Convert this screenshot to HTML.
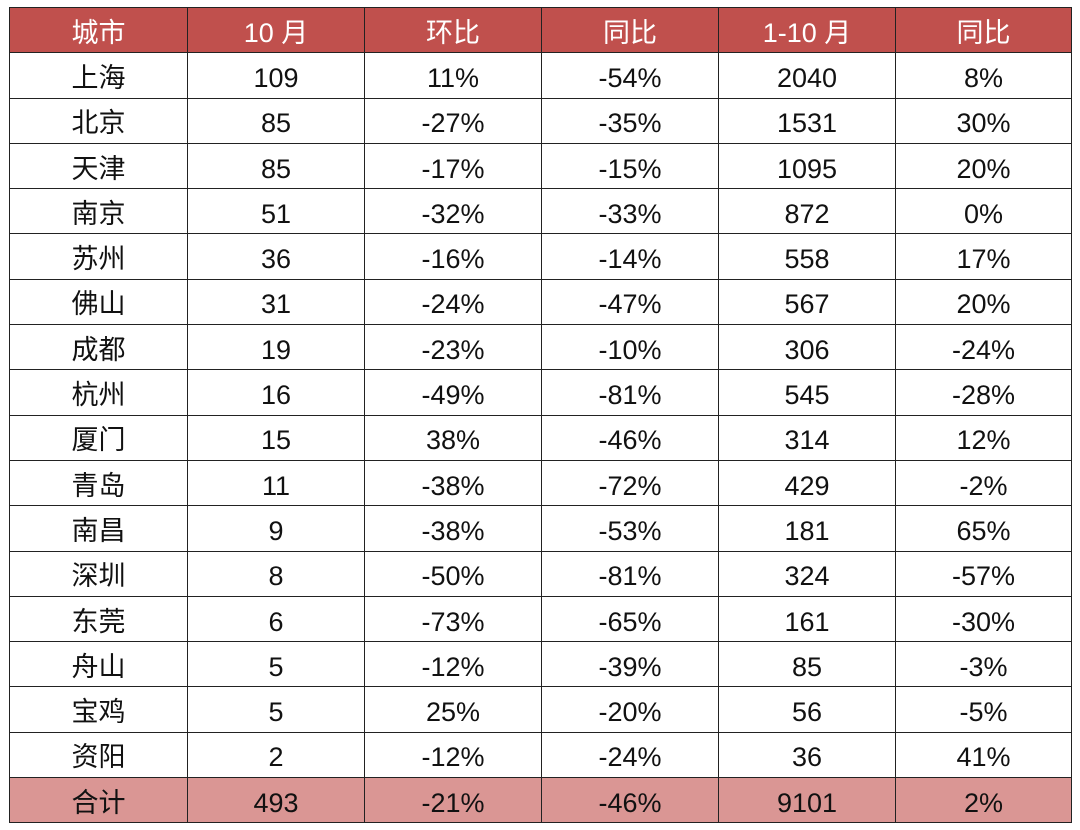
<!DOCTYPE html>
<html><head><meta charset="utf-8"><style>
html,body{margin:0;padding:0;background:#fff;width:1080px;height:830px;overflow:hidden}
table{position:absolute;left:9px;top:7px;border-collapse:collapse;table-layout:fixed;font-family:"Liberation Sans","Noto Sans CJK SC",sans-serif;font-size:27px;color:#111}
td{border:1.5px solid #222;height:38.3px;padding:6px 0 0 0;text-align:center;vertical-align:middle;line-height:1}
tr.h td{background:#c0504d;color:#fff}
tr.t td{background:#da9694}
</style></head><body>
<table>
<colgroup><col style="width:178px"><col style="width:177px"><col style="width:177px"><col style="width:177px"><col style="width:177px"><col style="width:176px"></colgroup>
<tr class="h"><td>城市</td><td>10 月</td><td>环比</td><td>同比</td><td>1-10 月</td><td>同比</td></tr>
<tr><td>上海</td><td>109</td><td>11%</td><td>-54%</td><td>2040</td><td>8%</td></tr>
<tr><td>北京</td><td>85</td><td>-27%</td><td>-35%</td><td>1531</td><td>30%</td></tr>
<tr><td>天津</td><td>85</td><td>-17%</td><td>-15%</td><td>1095</td><td>20%</td></tr>
<tr><td>南京</td><td>51</td><td>-32%</td><td>-33%</td><td>872</td><td>0%</td></tr>
<tr><td>苏州</td><td>36</td><td>-16%</td><td>-14%</td><td>558</td><td>17%</td></tr>
<tr><td>佛山</td><td>31</td><td>-24%</td><td>-47%</td><td>567</td><td>20%</td></tr>
<tr><td>成都</td><td>19</td><td>-23%</td><td>-10%</td><td>306</td><td>-24%</td></tr>
<tr><td>杭州</td><td>16</td><td>-49%</td><td>-81%</td><td>545</td><td>-28%</td></tr>
<tr><td>厦门</td><td>15</td><td>38%</td><td>-46%</td><td>314</td><td>12%</td></tr>
<tr><td>青岛</td><td>11</td><td>-38%</td><td>-72%</td><td>429</td><td>-2%</td></tr>
<tr><td>南昌</td><td>9</td><td>-38%</td><td>-53%</td><td>181</td><td>65%</td></tr>
<tr><td>深圳</td><td>8</td><td>-50%</td><td>-81%</td><td>324</td><td>-57%</td></tr>
<tr><td>东莞</td><td>6</td><td>-73%</td><td>-65%</td><td>161</td><td>-30%</td></tr>
<tr><td>舟山</td><td>5</td><td>-12%</td><td>-39%</td><td>85</td><td>-3%</td></tr>
<tr><td>宝鸡</td><td>5</td><td>25%</td><td>-20%</td><td>56</td><td>-5%</td></tr>
<tr><td>资阳</td><td>2</td><td>-12%</td><td>-24%</td><td>36</td><td>41%</td></tr>
<tr class="t"><td>合计</td><td>493</td><td>-21%</td><td>-46%</td><td>9101</td><td>2%</td></tr>
</table>
</body></html>
